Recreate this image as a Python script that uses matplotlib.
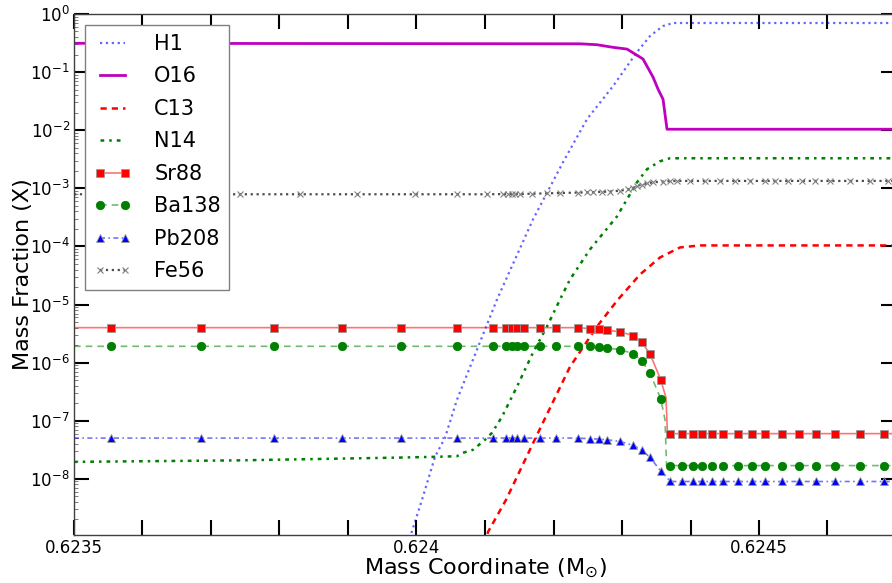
import matplotlib
matplotlib.use('Agg')
import matplotlib.pyplot as plt
from matplotlib.ticker import MultipleLocator, LogLocator, NullFormatter, FixedLocator, FixedFormatter
from matplotlib.legend_handler import HandlerTuple

# abundance profiles, mass coordinate in Msun, mass fraction X
h1_m = [0.6239847, 0.6240080, 0.6240270, 0.6240416, 0.6240591, 0.6241175, 0.6241438, 0.6241701,
        0.6242139, 0.6242489, 0.6242869, 0.6243219, 0.6243409, 0.6243599, 0.6243745, 0.6247]
h1_x = [6.0e-10, 4.35e-9, 2.39e-8, 5.1e-8, 2.3e-7, 1.22e-5, 5.97e-5, 2.92e-4,
        2.81e-3, 1.55e-2, 5.74e-2, 0.221, 0.418, 0.621, 0.70, 0.70]

o16_m = [0.6235, 0.6242387, 0.6242635, 0.6242869, 0.6243073, 0.6243307, 0.6243453, 0.6243526,
         0.6243599, 0.6243657, 0.6247]
o16_x = [0.313, 0.307, 0.296, 0.267, 0.249, 0.168, 0.082, 0.0509, 0.0342, 0.0104, 0.0104]

c13_m = [0.6241000, 0.6241044, 0.6241307, 0.6241774, 0.6242241, 0.6242635, 0.6242942, 0.6243263,
         0.6243555, 0.6243847, 0.6244139, 0.6247]
c13_x = [7.3e-10, 1.22e-9, 4.35e-9, 6.2e-8, 8.5e-7, 4.18e-6, 1.22e-5, 3.29e-5,
         6.46e-5, 9.6e-5, 1.04e-4, 1.04e-4]

n14_m = [0.6235, 0.6237423, 0.6239818, 0.6240241, 0.6240591, 0.6240679, 0.6240825, 0.6241,
         0.6241102, 0.6241248, 0.6241467, 0.6241701, 0.6241905, 0.6242095, 0.6242241, 0.6242533,
         0.6242927, 0.6243219, 0.6243365, 0.6243555, 0.6243701, 0.6247]
n14_x = [1.96e-8, 2.08e-8, 2.33e-8, 2.39e-8, 2.45e-8, 2.81e-8, 3.16e-8, 4.7e-8,
         6.2e-8, 1.17e-7, 3.86e-7, 1.49e-6, 4.18e-6, 1.22e-5, 2.7e-5, 8.9e-5,
         3.29e-4, 1.27e-3, 2.13e-3, 2.92e-3, 3.29e-3, 3.29e-3]

# marked zones shared by Sr88, Ba138, Pb208
mark_m = [0.6235545, 0.6236858, 0.6237920, 0.6238912, 0.6239774, 0.6240587, 0.6241112, 0.6241307,
          0.6241390, 0.6241472, 0.6241569, 0.6241803, 0.6242036, 0.6242353, 0.6242533, 0.6242660,
          0.6242785, 0.6242971, 0.6243165, 0.6243288, 0.6243409, 0.6243565, 0.6243708, 0.6243872,
          0.6244032, 0.6244164, 0.6244309, 0.6244479, 0.6244689, 0.6244893, 0.6245088, 0.6245340,
          0.6245588, 0.6245828, 0.6246109, 0.6246474, 0.6246829]
sr88_mark = [4.0e-6, 4.0e-6, 4.0e-6, 4.0e-6, 4.0e-6, 4.0e-6, 4.0e-6, 4.0e-6,
             4.0e-6, 4.0e-6, 4.0e-6, 4.0e-6, 4.0e-6, 4.0e-6, 3.86e-6, 3.81e-6,
             3.61e-6, 3.39e-6, 2.92e-6, 2.24e-6, 1.41e-6, 5.1e-7, 6.0e-8, 6.0e-8,
             6.0e-8, 6.0e-8, 6.0e-8, 6.0e-8, 6.0e-8, 6.0e-8, 6.0e-8, 6.0e-8,
             6.0e-8, 6.0e-8, 6.0e-8, 6.0e-8, 6.0e-8]
ba138_mark = [1.91e-6, 1.91e-6, 1.91e-6, 1.91e-6, 1.91e-6, 1.91e-6, 1.91e-6, 1.91e-6,
              1.91e-6, 1.91e-6, 1.91e-6, 1.91e-6, 1.91e-6, 1.91e-6, 1.91e-6, 1.87e-6,
              1.79e-6, 1.67e-6, 1.43e-6, 1.08e-6, 6.6e-7, 2.39e-7, 1.69e-8, 1.69e-8,
              1.69e-8, 1.69e-8, 1.69e-8, 1.69e-8, 1.69e-8, 1.69e-8, 1.69e-8, 1.69e-8,
              1.69e-8, 1.69e-8, 1.69e-8, 1.69e-8, 1.69e-8]
pb208_mark = [5.03e-8, 5.03e-8, 5.03e-8, 5.03e-8, 5.03e-8, 5.03e-8, 5.03e-8, 5.03e-8,
              5.03e-8, 5.03e-8, 5.03e-8, 5.03e-8, 5.03e-8, 5.03e-8, 4.9e-8, 4.83e-8,
              4.7e-8, 4.4e-8, 3.75e-8, 3.16e-8, 2.33e-8, 1.37e-8, 9.0e-9, 9.0e-9,
              9.0e-9, 9.0e-9, 9.0e-9, 9.0e-9, 9.0e-9, 9.0e-9, 9.0e-9, 9.0e-9,
              9.0e-9, 9.0e-9, 9.0e-9, 9.0e-9, 9.0e-9]

# full profiles of the same three species (include the drop at the boundary)
sr88_m = [0.6235, 0.6242353, 0.6242533, 0.6242660, 0.6242785, 0.6242971, 0.6243165, 0.6243288,
          0.6243409, 0.6243565, 0.6243642, 0.6243664, 0.6247]
sr88_x = [4.0e-6, 4.0e-6, 3.86e-6, 3.81e-6, 3.61e-6, 3.39e-6, 2.92e-6, 2.24e-6,
          1.41e-6, 5.1e-7, 2.49e-7, 6.0e-8, 6.0e-8]
ba138_m = [0.6235, 0.6242353, 0.6242533, 0.6242660, 0.6242785, 0.6242971, 0.6243165, 0.6243288,
           0.6243409, 0.6243565, 0.6243628, 0.6243650, 0.6247]
ba138_x = [1.91e-6, 1.91e-6, 1.91e-6, 1.87e-6, 1.79e-6, 1.67e-6, 1.43e-6, 1.08e-6,
           6.6e-7, 2.39e-7, 1.04e-7, 1.69e-8, 1.69e-8]
pb208_m = [0.6235, 0.6242353, 0.6242533, 0.6242660, 0.6242785, 0.6242971, 0.6243165, 0.6243288,
           0.6243409, 0.6243565, 0.6243708, 0.6247]
pb208_x = [5.03e-8, 5.03e-8, 4.9e-8, 4.83e-8, 4.7e-8, 4.4e-8, 3.75e-8, 3.16e-8,
           2.33e-8, 1.37e-8, 9.0e-9, 9.0e-9]

fe56_m = [0.6235, 0.6237423, 0.6238299, 0.6239131, 0.6239978, 0.6240587, 0.6241025, 0.6241267,
          0.6241340, 0.6241390, 0.6241438, 0.6241511, 0.6241682, 0.6241901, 0.6242095, 0.6242362,
          0.6242485, 0.6242581, 0.6242704, 0.6242825, 0.6242971, 0.6243092, 0.6243165, 0.6243215,
          0.6243288, 0.6243361, 0.6243457, 0.6243603, 0.6243701, 0.6243799, 0.6243993, 0.6244212,
          0.6244431, 0.6244650, 0.6244869, 0.6245088, 0.6245234, 0.6245428, 0.6245624, 0.6245818,
          0.6246036, 0.6246328, 0.6246620, 0.6246887, 0.6247]
fe56_x = [7.9e-4, 7.9e-4, 7.9e-4, 7.9e-4, 7.9e-4, 7.9e-4, 7.9e-4, 7.95e-4,
          7.95e-4, 8.0e-4, 8.0e-4, 8.0e-4, 8.05e-4, 8.2e-4, 8.3e-4, 8.45e-4,
          8.5e-4, 8.6e-4, 8.7e-4, 8.8e-4, 9.1e-4, 9.6e-4, 1.02e-3, 1.10e-3,
          1.16e-3, 1.22e-3, 1.27e-3, 1.31e-3, 1.33e-3, 1.34e-3, 1.34e-3, 1.34e-3,
          1.34e-3, 1.34e-3, 1.34e-3, 1.34e-3, 1.34e-3, 1.34e-3, 1.34e-3, 1.34e-3,
          1.34e-3, 1.34e-3, 1.34e-3, 1.34e-3, 1.34e-3]

xticks = [0.6235, 0.624, 0.6245]
xtick_labels = ['0.6235', '0.624', '0.6245']

fig = plt.figure(figsize=(8.92, 5.83), dpi=100)
ax = fig.add_axes([74/892, 48/583, 822/892, 521/583])

l_h1, = ax.plot(h1_m, h1_x, ':', color='b', alpha=0.6, lw=1.6)
l_o16, = ax.plot(o16_m, o16_x, '-', color='m', lw=2)
l_c13, = ax.plot(c13_m, c13_x, '--', color='r', lw=1.8, dashes=(2.5, 2))
l_n14, = ax.plot(n14_m, n14_x, '-.', color='g', lw=1.8, dashes=(1.5, 2, 1, 2))

l_sr, = ax.plot(sr88_m, sr88_x, '-', color='r', alpha=0.55, lw=1.2)
m_sr, = ax.plot(mark_m, sr88_mark, 's', ls='none', color='r', ms=6, mec='0.6', mew=0.6)
l_ba, = ax.plot(ba138_m, ba138_x, '--', color='g', alpha=0.55, lw=1.2, dashes=(4, 3))
m_ba, = ax.plot(mark_m, ba138_mark, 'o', ls='none', color='g', ms=6, mec='g', mew=0.6)
l_pb, = ax.plot(pb208_m, pb208_x, '-.', color='b', alpha=0.55, lw=1.2, dashes=(3, 2, 1, 2))
m_pb, = ax.plot(mark_m, pb208_mark, '^', ls='none', color='b', ms=6, mec='0.6', mew=0.6)
l_fe, = ax.plot(fe56_m, fe56_x, ':', color='0.3', lw=1.6)
m_fe, = ax.plot(fe56_m[1:-1], fe56_x[1:-1], 'x', ls='none', color='0.5', ms=5, mew=0.8)

ax.set_yscale('log')
ax.set_xlim(0.6235, 0.6247)
ax.set_ylim(1.08e-9, 1)

ax.xaxis.set_major_locator(FixedLocator(xticks))
ax.xaxis.set_major_formatter(FixedFormatter(xtick_labels))
ax.xaxis.set_minor_locator(MultipleLocator(0.0001))
ax.yaxis.set_major_locator(LogLocator(base=10, numticks=20))
ax.yaxis.set_minor_locator(LogLocator(base=10, subs=(2, 3, 4, 5, 6, 7, 8, 9), numticks=20))
ax.yaxis.set_minor_formatter(NullFormatter())

ax.tick_params(axis='both', which='both', direction='in', top=True, right=True, labelsize=12)
ax.tick_params(axis='x', which='both', length=11, width=1.5, pad=3)
ax.tick_params(axis='y', which='major', length=11, width=1.5, pad=3)
ax.tick_params(axis='y', which='minor', length=3, width=0.6, color='0.4')
for s in ax.spines.values():
    s.set_linewidth(1.0)
    s.set_color('0.25')

ax.set_xlabel(r'Mass Coordinate (M$_{\odot}$)', fontsize=16, labelpad=0)
ax.set_ylabel('Mass Fraction (X)', fontsize=16, labelpad=-2)

handles = [l_h1, l_o16, l_c13, l_n14, (l_sr, m_sr), (l_ba, m_ba), (l_pb, m_pb), (l_fe, m_fe)]
labels = ['H1', 'O16', 'C13', 'N14', 'Sr88', 'Ba138', 'Pb208', 'Fe56']
leg = ax.legend(handles, labels, loc='upper left', numpoints=2, fontsize=15,
                handler_map={tuple: HandlerTuple(ndivide=1)},
                handlelength=1.8, handletextpad=1.1, labelspacing=0.6,
                borderaxespad=0.55, fancybox=False, framealpha=1, edgecolor='0.5')
leg.get_frame().set_linewidth(1.0)

fig.savefig('out.png', dpi=100)
